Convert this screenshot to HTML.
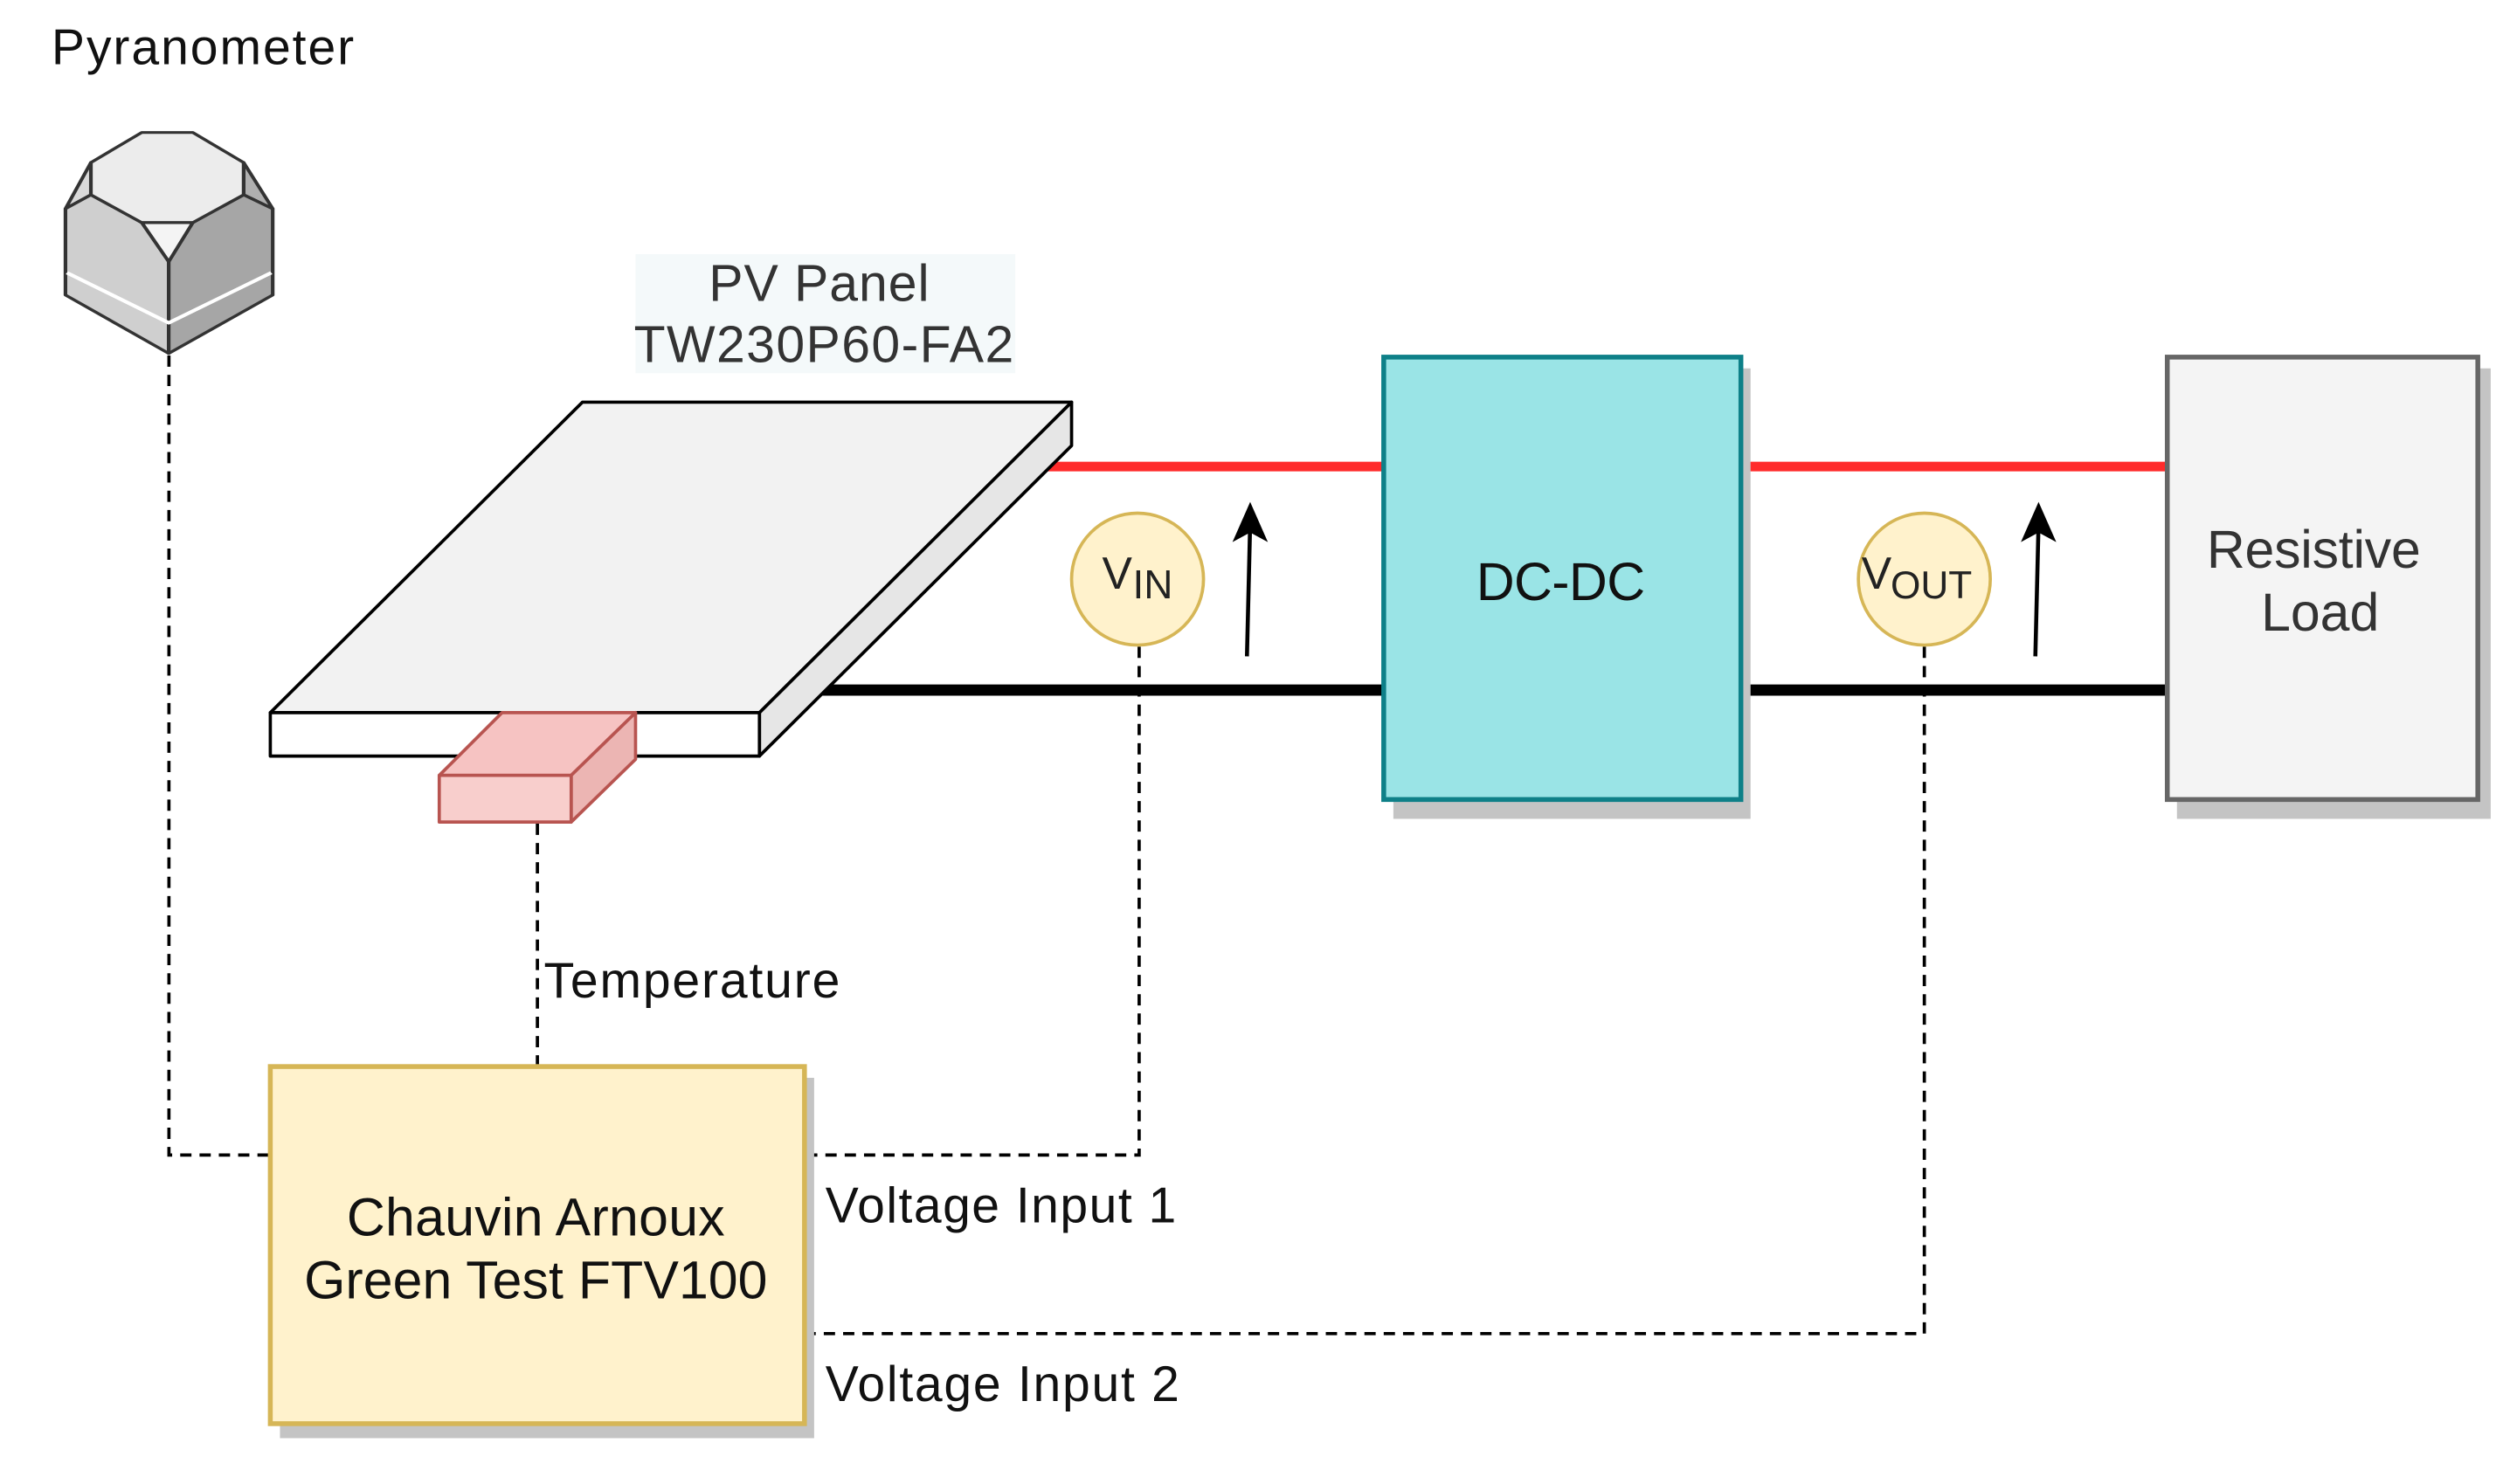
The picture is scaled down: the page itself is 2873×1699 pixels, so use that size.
<!DOCTYPE html>
<html><head><meta charset="utf-8"><style>
html,body{margin:0;padding:0;background:#fff;}
svg{display:block;}
text{font-family:"Liberation Sans",Arial,sans-serif;}
</style></head><body>
<svg width="2873" height="1699" viewBox="0 0 1560 922.5" preserveAspectRatio="none" xmlns="http://www.w3.org/2000/svg">
<rect width="1560" height="923" fill="#fff"/>
<text x="32" y="40" font-size="31" textLength="188" fill="#111">Pyranometer</text>
<!-- pyranometer -->
<g transform="scale(0.452,0.346)" stroke="#333" stroke-width="5" stroke-linejoin="round">
<path d="M90,375 L125,292 L125,350 Z" fill="#d9d9d9"/>
<path d="M375,375 L335,292 L335,350 Z" fill="#b0b0b0"/>
<path d="M90,375 L125,350 L195,400 L232,470 L232,635 L90,530 Z" fill="#cfcfcf"/>
<path d="M375,375 L335,350 L265,400 L232,470 L232,635 L375,530 Z" fill="#a6a6a6"/>
<path d="M125,292 L195,238 L265,238 L335,292 L335,350 L265,400 L195,400 L125,350 Z" fill="#ececec"/>
<path d="M195,400 L265,400 L232,470 Z" fill="#f4f4f4"/>
<path d="M92,490 L232,580 L373,490" fill="none" stroke="#fff" stroke-width="6"/>
</g>
<!-- dashed connectors -->
<g fill="none" stroke="#000" stroke-width="2" stroke-dasharray="7,5">
<path d="M105,221 V718 H168"/>
<path d="M334,512 V663"/>
<path d="M708,402 V718 H500"/>
<path d="M1196,402 V829 H500"/>
</g>
<!-- PV label -->
<rect x="395" y="158" width="236" height="74" fill="#f4f9fa"/>
<text x="509" y="187" font-size="32" textLength="137" fill="#333" text-anchor="middle">PV Panel</text>
<text x="512" y="225" font-size="32" textLength="236" fill="#333" text-anchor="middle">TW230P60-FA2</text>
<!-- wires -->
<line x1="650" y1="290" x2="860" y2="290" stroke="#ff2b2b" stroke-width="6"/>
<line x1="1082" y1="290" x2="1347" y2="290" stroke="#ff2b2b" stroke-width="6"/>
<line x1="510" y1="429" x2="860" y2="429" stroke="#000" stroke-width="7"/>
<line x1="1082" y1="429" x2="1347" y2="429" stroke="#000" stroke-width="7"/>
<!-- panel -->
<g stroke="#000" stroke-width="2" stroke-linejoin="round">
<path d="M362,250 L666,250 L472,443 L168,443 Z" fill="#f2f2f2"/>
<path d="M472,443 L666,250 L666,277 L472,470 Z" fill="#e6e6e6"/>
<rect x="168" y="443" width="304" height="27" fill="#fff"/>
</g>
<!-- sensor -->
<g stroke="#b85450" stroke-width="2" stroke-linejoin="round">
<path d="M273,482 L312,443 L395,443 L355,482 Z" fill="#f6c3c2"/>
<path d="M355,482 L395,443 L395,472 L355,511 Z" fill="#ecb5b3"/>
<rect x="273" y="482" width="82" height="29" fill="#f8cecc"/>
</g>
<text x="338" y="620" font-size="31" textLength="184" fill="#111">Temperature</text>
<!-- circles -->
<circle cx="707" cy="360" r="41" fill="#fff2cc" stroke="#d6b656" stroke-width="2"/>
<text x="685" y="366" font-size="28" fill="#222">V</text><text x="704" y="372" font-size="25" fill="#222">IN</text>
<circle cx="1196" cy="360" r="41" fill="#fff2cc" stroke="#d6b656" stroke-width="2"/>
<text x="1157" y="366" font-size="28" fill="#222">V</text><text x="1175" y="372" font-size="24" fill="#222">OUT</text>
<!-- arrows -->
<line x1="775" y1="408" x2="777" y2="325" stroke="#000" stroke-width="2.5"/>
<path d="M777,312 L766,337 L777,331 L788,337 Z" fill="#000"/>
<line x1="1265" y1="408" x2="1267" y2="325" stroke="#000" stroke-width="2.5"/>
<path d="M1267,312 L1256,337 L1267,331 L1278,337 Z" fill="#000"/>
<!-- DC-DC -->
<rect x="866" y="229" width="222" height="280" fill="#c4c4c4"/>
<rect x="860" y="222" width="222" height="275" fill="#9ae4e6" stroke="#0e8088" stroke-width="3"/>
<text x="970" y="373" font-size="33" textLength="105" fill="#111" text-anchor="middle">DC-DC</text>
<!-- Resistive -->
<rect x="1353" y="229" width="195" height="280" fill="#c4c4c4"/>
<rect x="1347" y="222" width="193" height="275" fill="#f4f4f4" stroke="#666" stroke-width="3"/>
<text x="1438" y="353" font-size="33" textLength="133" fill="#333" text-anchor="middle">Resistive</text>
<text x="1442" y="392" font-size="33" fill="#333" text-anchor="middle">Load</text>
<!-- Chauvin -->
<rect x="174" y="670" width="332" height="224" fill="#c4c4c4"/>
<rect x="168" y="663" width="332" height="222" fill="#fff2cc" stroke="#d6b656" stroke-width="3"/>
<text x="333" y="768" font-size="33" textLength="235" fill="#111" text-anchor="middle">Chauvin Arnoux</text>
<text x="333" y="807" font-size="33" textLength="288" fill="#111" text-anchor="middle">Green Test FTV100</text>
<text x="513" y="760" font-size="31" textLength="218" fill="#111">Voltage Input 1</text>
<text x="513" y="871" font-size="31" textLength="220" fill="#111">Voltage Input 2</text>
</svg>
</body></html>
